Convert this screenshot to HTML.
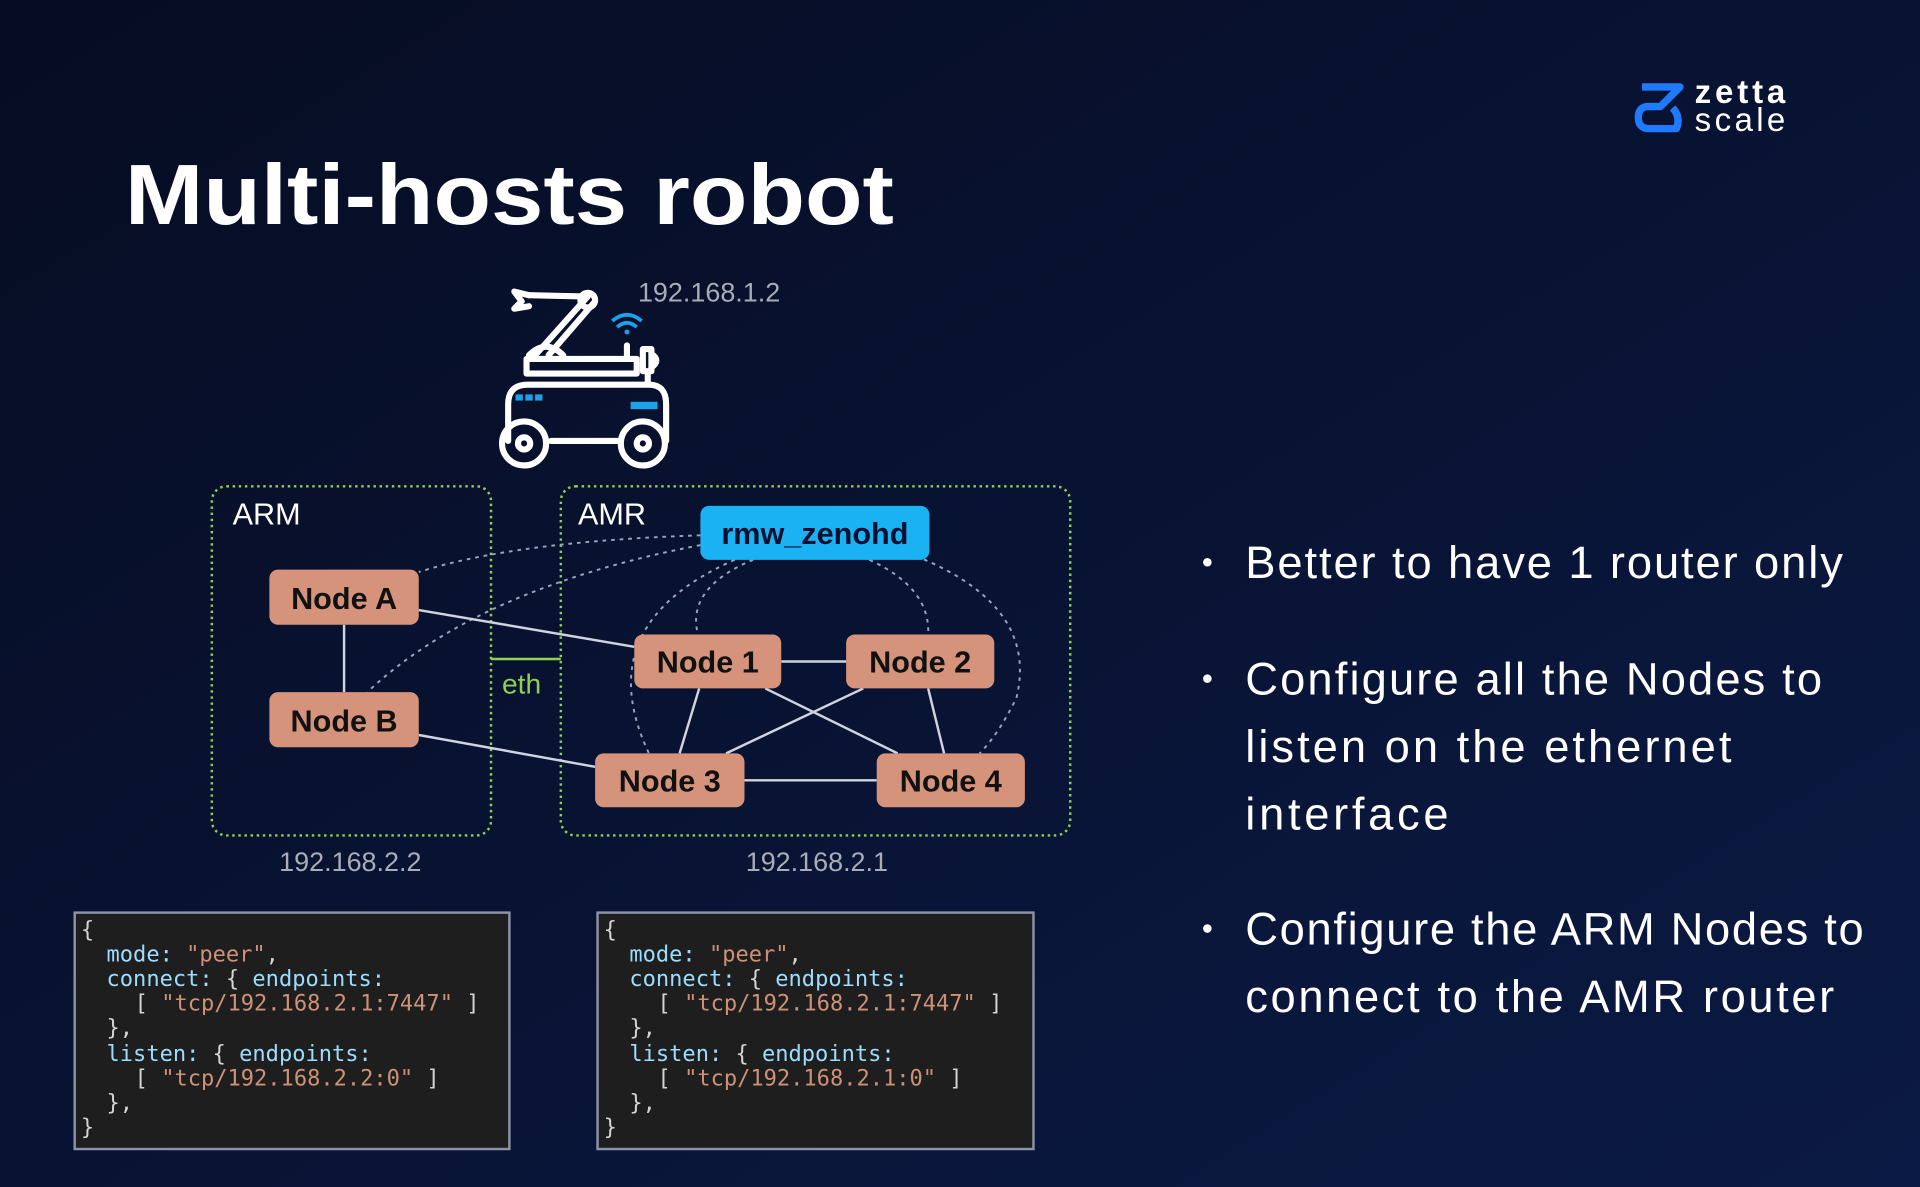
<!DOCTYPE html>
<html><head><meta charset="utf-8"><style>
html,body{margin:0;padding:0;background:#07102a;}
svg{display:block}
.t{font-family:"Liberation Sans",sans-serif}
.m{font-family:"DejaVu Sans Mono","Liberation Mono",monospace;font-size:18px}
</style></head><body>
<svg width="1920" height="1187" viewBox="0 0 1568 969" preserveAspectRatio="none" xmlns="http://www.w3.org/2000/svg">
<defs>
<linearGradient id="bg" x1="0" y1="0" x2="1" y2="1">
<stop offset="0" stop-color="#060c22"/><stop offset="1" stop-color="#0b1a44"/>
</linearGradient>
</defs>
<rect width="1568" height="969" fill="url(#bg)"/>
<g fill="none" stroke="#1e7bff" stroke-width="6" stroke-linejoin="round">
<path d="M1341 71 H1372 L1356 87 H1346 Q1338 87 1338 96 Q1338 105 1347 105 H1369 Q1373 96 1366 88"/>
</g>
<text x="1384" y="84" class="t" font-size="27" font-weight="bold" fill="#fff" textLength="74">zetta</text>
<text x="1384" y="107" class="t" font-size="27" fill="#fff" textLength="74">scale</text>
<text x="102" y="183" class="t" font-size="70" font-weight="bold" fill="#fff" textLength="628" lengthAdjust="spacingAndGlyphs">Multi-hosts robot</text>
<g fill="none" stroke="#fff" stroke-width="5" stroke-linecap="round" stroke-linejoin="round">
<path d="M437 290 L480 242 M448 290 L486 246"/>
<circle cx="480" cy="245" r="6"/>
<path d="M476 242 L432 241"/>
<path d="M432 241 L420 238 L426 246 L420 252 L432 250"/>
<path d="M432 290 Q446 276 460 290"/>
<rect x="430" y="293" width="90" height="12"/>
<path d="M512 293 V282"/>
<rect x="525" y="285" width="7" height="18"/><path d="M532 289 Q540 294 532 300"/>
<path d="M529 305 V312"/>
<path d="M415 360 V330 Q415 314 431 314 H530 Q544 314 544 330 V360"/>
<path d="M450 360 H505"/>
<circle cx="428" cy="362" r="18"/><circle cx="428" cy="362" r="5"/>
<circle cx="525" cy="362" r="18"/><circle cx="525" cy="362" r="5"/>
</g>
<g fill="#1aa3ea"><rect x="421" y="322" width="6" height="5"/><rect x="429" y="322" width="6" height="5"/><rect x="437" y="322" width="6" height="5"/><rect x="515" y="328" width="22" height="6"/></g>
<g fill="none" stroke="#1aa3ea" stroke-width="3"><path d="M500 262 Q512 252 524 262"/><path d="M504 267 Q512 260 520 267"/></g>
<circle cx="512" cy="271" r="2" fill="#1aa3ea"/>
<g class="t" font-size="22" fill="#a8adb8">
<text x="521" y="246">192.168.1.2</text>
<text x="228" y="711">192.168.2.2</text>
<text x="609" y="711">192.168.2.1</text>
</g>
<g fill="none" stroke="#8fd14f" stroke-width="2" stroke-dasharray="2 3">
<rect x="173" y="397" width="228" height="285" rx="12"/>
<rect x="458" y="397" width="416" height="285" rx="12"/>
</g>
<text x="190" y="428" class="t" font-size="25" fill="#fff">ARM</text>
<text x="472" y="428" class="t" font-size="25" fill="#fff">AMR</text>
<line x1="401" y1="538" x2="458" y2="538" stroke="#8fd14f" stroke-width="2"/>
<text x="410" y="566" class="t" font-size="23" fill="#8fd14f">eth</text>
<g fill="none" stroke="#9aa3b8" stroke-width="1.6" stroke-dasharray="3 4">
<path d="M572 437 Q420 442 342 467"/>
<path d="M572 445 Q390 480 300 565"/>
<path d="M600 457 Q480 510 530 615"/>
<path d="M615 457 Q560 480 570 518"/>
<path d="M710 457 Q760 480 758 518"/>
<path d="M735 449 Q850 490 830 570 Q815 600 800 615"/>
</g>
<g stroke="#d0d4de" stroke-width="2">
<line x1="281" y1="510" x2="281" y2="565"/>
<line x1="342" y1="498" x2="518" y2="528"/>
<line x1="342" y1="600" x2="486" y2="626"/>
<line x1="638" y1="540" x2="691" y2="540"/>
<line x1="608" y1="637" x2="716" y2="637"/>
<line x1="571" y1="562" x2="555" y2="615"/>
<line x1="758" y1="562" x2="771" y2="615"/>
<line x1="625" y1="562" x2="733" y2="615"/>
<line x1="705" y1="562" x2="593" y2="615"/>
</g>
<rect x="572" y="413" width="187" height="44" rx="7" fill="#1ab2f2"/>
<text x="665.5" y="444" class="t" font-size="25" font-weight="bold" fill="#0a1030" text-anchor="middle">rmw_zenohd</text>
<g fill="#d4937a">
<rect x="220" y="465" width="122" height="45" rx="7"/>
<rect x="220" y="565" width="122" height="45" rx="7"/>
<rect x="518" y="518" width="120" height="44" rx="7"/>
<rect x="691" y="518" width="121" height="44" rx="7"/>
<rect x="486" y="615" width="122" height="44" rx="7"/>
<rect x="716" y="615" width="121" height="44" rx="7"/>
</g>
<g class="t" font-size="25" font-weight="bold" fill="#111" text-anchor="middle">
<text x="281" y="497">Node A</text>
<text x="281" y="597">Node B</text>
<text x="578" y="549">Node 1</text>
<text x="751.5" y="549">Node 2</text>
<text x="547" y="646">Node 3</text>
<text x="776.5" y="646">Node 4</text>
</g>
<g fill="#1e1e1e" stroke="#8c93a8" stroke-width="2">
<rect x="61" y="745" width="355" height="193"/>
<rect x="488" y="745" width="356" height="193"/>
</g>
<g class="m" fill="#d4d4d4">
<g transform="translate(66,0)">
<text x="0" y="765">{</text>
<text x="21" y="785"><tspan fill="#9cdcfe">mode:</tspan> <tspan fill="#ce9178">"peer"</tspan>,</text>
<text x="21" y="805"><tspan fill="#9cdcfe">connect:</tspan> { <tspan fill="#9cdcfe">endpoints:</tspan></text>
<text x="44" y="825">[ <tspan fill="#ce9178">"tcp/192.168.2.1:7447"</tspan> ]</text>
<text x="21" y="845">},</text>
<text x="21" y="866"><tspan fill="#9cdcfe">listen:</tspan> { <tspan fill="#9cdcfe">endpoints:</tspan></text>
<text x="44" y="886">[ <tspan fill="#ce9178">"tcp/192.168.2.2:0"</tspan> ]</text>
<text x="21" y="906">},</text>
<text x="0" y="926">}</text>
</g>
<g transform="translate(493,0)">
<text x="0" y="765">{</text>
<text x="21" y="785"><tspan fill="#9cdcfe">mode:</tspan> <tspan fill="#ce9178">"peer"</tspan>,</text>
<text x="21" y="805"><tspan fill="#9cdcfe">connect:</tspan> { <tspan fill="#9cdcfe">endpoints:</tspan></text>
<text x="44" y="825">[ <tspan fill="#ce9178">"tcp/192.168.2.1:7447"</tspan> ]</text>
<text x="21" y="845">},</text>
<text x="21" y="866"><tspan fill="#9cdcfe">listen:</tspan> { <tspan fill="#9cdcfe">endpoints:</tspan></text>
<text x="44" y="886">[ <tspan fill="#ce9178">"tcp/192.168.2.1:0"</tspan> ]</text>
<text x="21" y="906">},</text>
<text x="0" y="926">}</text>
</g>
</g>
<g class="t" font-size="37" fill="#fff">
<circle cx="986" cy="459" r="3.5"/><circle cx="986" cy="554" r="3.5"/><circle cx="986" cy="758" r="3.5"/>
<text x="1017" y="472" textLength="488">Better to have 1 router only</text>
<text x="1017" y="567" textLength="471">Configure all the Nodes to</text>
<text x="1017" y="622" textLength="397">listen on the ethernet</text>
<text x="1017" y="677" textLength="166">interface</text>
<text x="1017" y="771" textLength="505">Configure the ARM Nodes to</text>
<text x="1017" y="826" textLength="481">connect to the AMR router</text>
</g>
</svg>
</body></html>
